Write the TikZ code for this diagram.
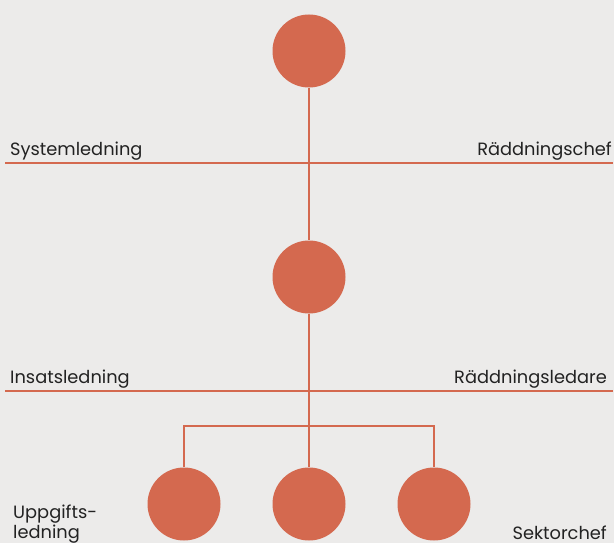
\documentclass[tikz,border=0pt]{standalone}
\usepackage{fontspec}
\setmainfont{Poppins}
\definecolor{bg}{HTML}{ECEBEA}
\definecolor{acc}{HTML}{D4694F}
\definecolor{txt}{HTML}{222222}
\begin{document}
\begin{tikzpicture}[x=1pt,y=-1pt,
  dot/.style={circle,fill=acc,draw=none,minimum size=73pt,inner sep=0pt},
  conn/.style={draw=acc,line width=1.3pt},
  lbl/.style={inner sep=0pt,text=txt,font=\fontsize{17.8}{20}\selectfont}]
\fill[bg] (0,0) rectangle (614,543);
\useasboundingbox (0,0) rectangle (614,543);
% separators
\coordinate (s1l) at (5,163); \coordinate (s1r) at (613,163);
\coordinate (s2l) at (5,391); \coordinate (s2r) at (613,391);
\draw[conn] (s1l) -- (s1r);
\draw[conn] (s2l) -- (s2r);
% nodes
\node[dot] (top) at (309,51) {};
\node[dot] (mid) at (309,277) {};
\node[dot] (b1) at (184,504) {};
\node[dot] (b2) at (309,504) {};
\node[dot] (b3) at (434,504) {};
\coordinate (br) at (309,426);
\draw[conn] (top) -- (mid);
\draw[conn] (mid) -- (b2);
\draw[conn] (b1.north) |- (br) -| (b3.north);
% labels
\node[lbl,anchor=base west] (l1) at (10,155) {Systemledning};
\node[lbl,anchor=base east] (r1) at (612,155) {Räddningschef};
\node[lbl,anchor=base west] (l2) at (10,383) {Insatsledning};
\node[lbl,anchor=base east] (r2) at (607,383) {Räddningsledare};
\node[lbl,anchor=base west,align=left] (l3) at (13,538) {Uppgifts-\\ledning};
\node[lbl,anchor=base east] (r3) at (607,539) {Sektorchef};
\end{tikzpicture}
\end{document}
